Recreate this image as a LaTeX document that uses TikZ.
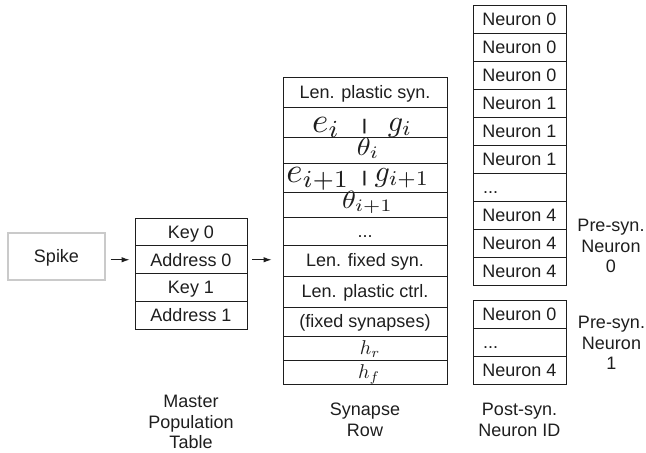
\RequirePackage{fix-cm}
\documentclass[tikz,border=0pt]{standalone}
\usepackage[no-math]{fontspec}
\setmainfont{Liberation Sans}
\usetikzlibrary{arrows.meta}
\definecolor{ink}{HTML}{1E1E1E}
\definecolor{spikegray}{HTML}{CACACA}
\tikzset{
  txt/.style={inner sep=0pt, text=ink, font=\fontsize{18}{20.5}\selectfont},
  cell/.style={txt, draw=ink, line width=0.9pt, text height=12.9pt, text depth=0pt},
  mastercell/.style={cell, minimum width=112pt, minimum height=27.75pt},
  syncell/.style={cell, minimum width=164pt},
  neucell/.style={cell, minimum width=93pt, minimum height=28pt},
  lbl/.style={txt, align=center},
  mathbase/.style={inner sep=0pt, anchor=base, text=ink, font=\fontsize{10}{10}\selectfont},
  emath/.style={mathbase, scale=3.5},
  gmath/.style={mathbase, scale=3.0},
  thmath/.style={mathbase, xscale=2.8, yscale=2.5},
  hmath/.style={mathbase, scale=2.0},
  barmark/.style={inner sep=0pt, anchor=base, text=ink, font=\fontsize{15.5}{15.5}\bfseries},
  arr/.style={draw=ink, line width=1pt, -{Latex[length=8pt,width=5.5pt]}}
}
\begin{document}
\begin{tikzpicture}[x=1pt,y=-1pt]
\useasboundingbox (0,0) rectangle (646,453);

% Spike
\node[txt, draw=spikegray, line width=1.1pt, minimum width=97pt, minimum height=47pt, text height=12.9pt, text depth=0pt] (spike) at (56.5,256.5) {Spike};

% Master population table
\node[mastercell] (k0) at (191,232) {Key 0};
\node[mastercell] (a0) at (191,259.75) {Address 0};
\node[mastercell] (k1) at (191,287.5) {Key 1};
\node[mastercell] (a1) at (191,315.25) {Address 1};

% Synapse row
\node[syncell, minimum height=30pt] (s1) at (365,92) {Len. plastic syn.};
\node[syncell, minimum height=30pt] (s2) at (365,122) {};
\node[syncell, minimum height=26pt] (s3) at (365,150) {};
\node[syncell, minimum height=29pt] (s4) at (365,177.5) {};
\node[syncell, minimum height=25pt] (s5) at (365,204.5) {};
\node[syncell, minimum height=28pt] (s6) at (365,231) {...};
\node[syncell, minimum height=31pt] (s7) at (365,260.5) {Len. fixed syn.};
\node[syncell, minimum height=31pt] (s8) at (365,291.5) {Len. plastic ctrl.};
\node[syncell, minimum height=29pt] (s9) at (365,321.5) {(fixed synapses)};
\node[syncell, minimum height=24pt] (s10) at (365,348) {};
\node[syncell, minimum height=24pt] (s11) at (365,372) {};

% math contents
\node[emath] (ei) at (326,132) {$e_i$};
\node[barmark] (bar1) at (364.5,130) {|};
\node[gmath] (gi) at (400,131) {$g_i$};
\node[thmath] (thi) at (368,155) {$\theta_i$};
\node[emath] (ei1) at (318,182) {$e_{i+1}$};
\node[barmark] (bar2) at (364.5,182) {|};
\node[gmath] (gi1) at (402,181) {$g_{i+1}$};
\node[thmath] (thi1) at (367.5,208) {$\theta_{i+1}$};
\node[hmath] (hr) at (370,354.5) {$h_r$};
\node[hmath] (hf) at (369,378.5) {$h_f$};

% Post-synaptic neuron IDs, group 0
\node[neucell] (n1) at (519.5,19) {Neuron 0};
\node[neucell] (n2) at (519.5,47) {Neuron 0};
\node[neucell] (n3) at (519.5,75) {Neuron 0};
\node[neucell] (n4) at (519.5,103) {Neuron 1};
\node[neucell] (n5) at (519.5,131) {Neuron 1};
\node[neucell] (n6) at (519.5,159) {Neuron 1};
\node[neucell] (n7) at (519.5,187) {\makebox[73pt][l]{...}};
\node[neucell] (n8) at (519.5,215) {Neuron 4};
\node[neucell] (n9) at (519.5,243) {Neuron 4};
\node[neucell] (n10) at (519.5,271) {Neuron 4};

% group 1
\node[neucell] (m1) at (519.5,314) {Neuron 0};
\node[neucell] (m2) at (519.5,342) {\makebox[73pt][l]{...}};
\node[neucell] (m3) at (519.5,370) {Neuron 4};

% side labels
\node[lbl] (pre0) at (611,246) {Pre-syn.\\Neuron\\0};
\node[lbl] (pre1) at (611.5,343) {Pre-syn.\\Neuron\\1};

% bottom labels
\node[lbl] (mpt) at (191,422) {Master\\Population\\Table};
\node[lbl] (sr) at (365,420) {Synapse\\Row};
\node[lbl] (pid) at (519.5,420) {Post-syn.\\Neuron ID};

% arrows
\draw[arr] ([xshift=5pt]spike.east |- a0.west) -- ([xshift=-5pt]a0.west);
\draw[arr] ([xshift=5pt]a0.east) -- ([xshift=-11pt]s7.west |- a0.east);
\end{tikzpicture}
\end{document}
